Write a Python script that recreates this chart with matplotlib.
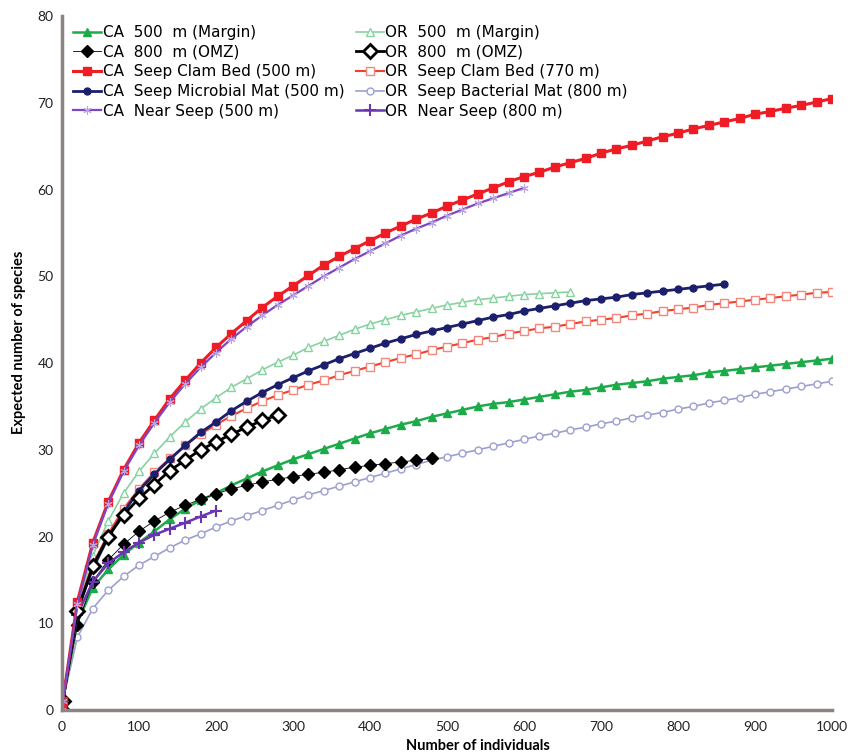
import matplotlib
matplotlib.use('Agg')
import matplotlib.pyplot as plt

# sample sizes (individuals): 0, 1, then every 20
individuals = [0, 1] + list(range(20, 1001, 20))

ca_margin = [0, 1, 10.1, 14.1, 16.2, 17.9, 19.3, 20.6, 22.0, 23.2, 24.2, 25.0, 25.9, 26.7,
             27.5, 28.2, 28.9, 29.5, 30.1, 30.7, 31.3, 31.9, 32.4, 32.9, 33.3, 33.8, 34.2,
             34.6, 35.0, 35.3, 35.5, 35.8, 36.1, 36.4, 36.7, 36.9, 37.2, 37.5, 37.7, 37.9,
             38.2, 38.4, 38.6, 38.9, 39.1, 39.3, 39.5, 39.7, 39.9, 40.1, 40.3, 40.5]
ca_omz = [0, 1, 9.8, 14.8, 17.3, 19.1, 20.6, 21.8, 22.8, 23.6, 24.3, 24.9, 25.5, 25.9,
          26.3, 26.6, 26.9, 27.2, 27.4, 27.7, 28.0, 28.2, 28.4, 28.6, 28.8, 29.0]
ca_clam = [0, 1, 12.5, 19.3, 24.0, 27.7, 30.8, 33.4, 35.9, 38.0, 40.0, 41.8, 43.4, 44.9,
           46.4, 47.7, 48.9, 50.1, 51.3, 52.3, 53.2, 54.1, 55.0, 55.8, 56.6, 57.3, 58.1,
           58.8, 59.5, 60.2, 60.9, 61.5, 62.0, 62.6, 63.1, 63.6, 64.2, 64.7, 65.1, 65.6,
           66.1, 66.5, 67.0, 67.4, 67.8, 68.2, 68.7, 69.0, 69.4, 69.7, 70.1, 70.5]
ca_mat = [0, 1, 11.5, 16.3, 19.9, 22.8, 25.3, 27.2, 28.9, 30.5, 32.0, 33.2, 34.5, 35.6,
          36.6, 37.5, 38.3, 39.1, 39.8, 40.5, 41.1, 41.7, 42.3, 42.8, 43.3, 43.7, 44.1,
          44.5, 44.9, 45.3, 45.6, 46.0, 46.3, 46.6, 46.9, 47.2, 47.4, 47.6, 47.9, 48.1,
          48.3, 48.5, 48.7, 48.9, 49.1]
ca_near = [0, 1, 12.2, 19.0, 23.8, 27.5, 30.5, 33.1, 35.5, 37.6, 39.5, 41.2, 42.8, 44.2,
           45.5, 46.7, 47.8, 48.9, 50.0, 51.0, 52.0, 52.9, 53.8, 54.7, 55.5, 56.2, 57.0,
           57.7, 58.4, 59.0, 59.6, 60.2]

or_margin = [0, 1, 12.0, 17.8, 21.8, 25.0, 27.5, 29.6, 31.5, 33.2, 34.7, 36.0, 37.2, 38.2,
             39.2, 40.1, 40.9, 41.8, 42.5, 43.2, 43.9, 44.5, 45.0, 45.5, 45.9, 46.3, 46.7,
             47.0, 47.3, 47.5, 47.7, 47.9, 48.0, 48.1, 48.2]
or_omz = [0, 1, 11.4, 16.6, 20.0, 22.5, 24.4, 26.0, 27.6, 28.8, 30.0, 30.9, 31.8, 32.6,
          33.4, 34.0]
or_clam = [0, 1, 11.8, 16.8, 20.3, 23.2, 25.5, 27.4, 29.0, 30.5, 31.8, 32.9, 33.9, 34.8,
           35.6, 36.3, 36.9, 37.5, 38.0, 38.6, 39.1, 39.6, 40.1, 40.6, 41.0, 41.5, 41.9,
           42.3, 42.7, 43.0, 43.4, 43.7, 44.0, 44.2, 44.5, 44.8, 45.0, 45.2, 45.5, 45.7,
           46.0, 46.2, 46.4, 46.7, 46.9, 47.1, 47.3, 47.5, 47.7, 47.9, 48.1, 48.2]
or_mat = [0, 1, 8.4, 11.7, 13.8, 15.4, 16.7, 17.7, 18.7, 19.6, 20.3, 21.1, 21.8, 22.4,
          23.0, 23.6, 24.2, 24.8, 25.3, 25.8, 26.3, 26.8, 27.3, 27.8, 28.3, 28.8, 29.2,
          29.6, 30.0, 30.4, 30.8, 31.2, 31.6, 31.9, 32.3, 32.6, 33.0, 33.3, 33.7, 34.0,
          34.3, 34.7, 35.0, 35.4, 35.7, 36.0, 36.4, 36.7, 37.0, 37.3, 37.6, 37.9]
or_near = [0, 1, 11.0, 14.8, 16.9, 18.2, 19.3, 20.2, 20.9, 21.6, 22.3, 23.0]

fig = plt.figure(figsize=(8.48, 7.55), dpi=100)
ax = fig.add_axes([0.0731, 0.0596, 0.908, 0.919])

def n(vals):
    return individuals[:len(vals)]

# OR curves first (drawn underneath)
ax.plot(n(or_mat), or_mat, color='#9c9fd0', lw=1.2, marker='o', ms=5,
        mfc='white', mec='#9c9fd0', mew=1.0, label='OR  Seep Bacterial Mat (800 m)')
ax.plot(n(or_margin), or_margin, color='#86d3a0', lw=1.2, marker='^', ms=6,
        mfc='white', mec='#86d3a0', mew=1.0, label='OR  500  m (Margin)')
ax.plot(n(or_clam), or_clam, color='#f2402e', lw=1.5, marker='s', ms=5.5,
        mfc='white', mec='#f4877c', mew=1.0, label='OR  Seep Clam Bed (770 m)')
ax.plot(n(ca_margin), ca_margin, color='#1dab4a', lw=1.8, marker='^', ms=5.5,
        mfc='#1dab4a', mec='#1dab4a', label='CA  500  m (Margin)')
ax.plot(n(ca_omz), ca_omz, color='black', lw=0.6, marker='D', ms=6,
        mfc='black', mec='black', label='CA  800  m (OMZ)')
ax.plot(n(or_near), or_near, color='#6a35b0', lw=1.8, marker='+', ms=8,
        mew=1.5, label='OR  Near Seep (800 m)')
ax.plot(n(ca_mat), ca_mat, color='#1c1f6b', lw=2.0, marker='o', ms=5,
        mfc='#1c1f6b', mec='#1c1f6b', label='CA  Seep Microbial Mat (500 m)')
ax.plot(n(or_omz), or_omz, color='black', lw=2.0, marker='D', ms=7,
        mfc='white', mec='black', mew=2.0, label='OR  800  m (OMZ)')
ax.plot(n(ca_clam), ca_clam, color='#ee1c24', lw=2.2, marker='s', ms=5.5,
        mfc='#ee1c24', mec='#ee1c24', label='CA  Seep Clam Bed (500 m)')
ax.plot(n(ca_near), ca_near, color='#7e45c4', lw=1.6, marker=(6, 2, 0), ms=6,
        mec='#b9a3e0', mew=0.8, label='CA  Near Seep (500 m)')

ax.set_xlim(0, 1000)
ax.set_ylim(0, 80)
ax.set_xticks(range(0, 1001, 100))
ax.set_yticks(range(0, 81, 10))
for s in ['top', 'right']:
    ax.spines[s].set_visible(False)
for s in ['left', 'bottom']:
    ax.spines[s].set_color('#8a8582')
    ax.spines[s].set_linewidth(2.5)
ax.tick_params(length=0, labelsize=10, pad=8, labelcolor='#222222')
for lab in ax.get_xticklabels() + ax.get_yticklabels():
    lab.set_family('Lato')
ax.tick_params(axis='y', pad=6)

ax.set_xlabel('Number of individuals', fontsize=10.5, fontweight='bold', family='Lato')
ax.xaxis.set_label_coords(0.54, -0.042)
ax.set_ylabel('Expected number of species', fontsize=10.5, fontweight='bold', family='Lato')
ax.yaxis.set_label_coords(-0.047, 0.53)

h, l = ax.get_legend_handles_labels()
order = ['CA  500  m (Margin)', 'CA  800  m (OMZ)', 'CA  Seep Clam Bed (500 m)',
         'CA  Seep Microbial Mat (500 m)', 'CA  Near Seep (500 m)',
         'OR  500  m (Margin)', 'OR  800  m (OMZ)', 'OR  Seep Clam Bed (770 m)',
         'OR  Seep Bacterial Mat (800 m)', 'OR  Near Seep (800 m)']
hd = dict(zip(l, h))
ax.legend([hd[k] for k in order], order, ncol=2, loc='upper left',
          bbox_to_anchor=(0.005, 0.998), frameon=False, fontsize=11,
          handlelength=1.8, handletextpad=0.1, labelspacing=0.3,
          columnspacing=0.8, borderaxespad=0.1)

fig.savefig('out.png', dpi=100)
